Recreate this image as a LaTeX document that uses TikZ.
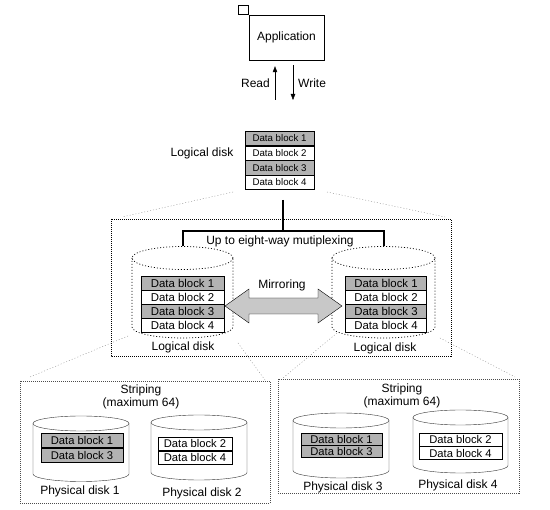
\documentclass[tikz,border=0pt]{standalone}
\usepackage{fontspec}
\setmainfont{Liberation Sans}
\usetikzlibrary{positioning,arrows.meta}
\definecolor{blockgray}{RGB}{178,178,178}
\definecolor{arrowgray}{RGB}{200,200,200}
\tikzset{
  blk/.style={draw,inner sep=0pt},
  gblk/.style={blk,fill=blockgray},
  lbl/.style={font=\fontsize{12}{13}\selectfont,inner sep=1pt},
  dots/.style={dash pattern=on 1pt off 1pt},
  cyldots/.style={line width=0.7pt,dash pattern=on 1pt off 2pt},
  proj/.style={black!45,dash pattern=on 1pt off 2pt},
  rw/.style={-{Triangle[length=6pt,width=4.5pt]}},
}
\begin{document}
\begin{tikzpicture}[x=1pt,y=1pt]
\useasboundingbox (0,0) rectangle (550,-510);

% application and read / write
\node[draw,minimum width=75pt,minimum height=45pt,lbl] (app) at (286.5,-37.5) {Application};
\node[draw,minimum width=10pt,minimum height=9pt,inner sep=0pt,anchor=south east] (tag) at (app.north west) {};
\coordinate (rd) at (275,-100);
\coordinate (wr) at (293,-100);
\draw[rw,shorten >=6pt] (rd) -- (rd |- app.south);
\draw[rw,shorten <=5pt] (wr |- app.south) -- (wr);
\node[lbl,anchor=east] (read) at (271,-83) {Read};
\node[lbl,anchor=west] (write) at (297,-83) {Write};

% logical disk
\begin{scope}[blk/.append style={minimum width=69pt,minimum height=14.25pt,font=\fontsize{9.7}{11}\selectfont}]
  \node[gblk,anchor=north] (t1) at (279.5,-131) {Data block 1};
  \node[blk,below=0pt of t1] (t2) {Data block 2};
  \node[gblk,below=0pt of t2] (t3) {Data block 3};
  \node[blk,below=0pt of t3] (t4) {Data block 4};
\end{scope}
\node[lbl] (ldisk) at (202,-153) {Logical disk};

% mirrored pair
\draw[dots] (111,-219) rectangle (451,-356);
\coordinate (lc) at (182.5,-258);
\coordinate (rc) at (383.5,-258);
\draw[line width=2pt] (283,-200) -- (283,-231);
\draw[line width=2pt] ([yshift=12pt]lc) |- (283,-231) -| ([yshift=12pt]rc);
\node[lbl] (mux) at (280,-241) {Up to eight-way mutiplexing};

\draw[cyldots] (lc) ellipse (50.5pt and 11.5pt);
\draw[cyldots] (lc) ++(-50.5,0) -- ++(0,-69) arc (180:360:50.5pt and 11pt) -- ++(0,69);
\draw[cyldots] (rc) ellipse (51.5pt and 11.5pt);
\draw[cyldots] (rc) ++(-51.5,0) -- ++(0,-69) arc (180:360:51.5pt and 11pt) -- ++(0,69);

\begin{scope}[blk/.append style={minimum width=83pt,minimum height=13.75pt,font=\fontsize{11.4}{13}\selectfont}]
  \node[gblk,anchor=north] (a1) at (182.5,-276) {Data block 1};
  \node[blk,below=0pt of a1] (a2) {Data block 2};
  \node[gblk,below=0pt of a2] (a3) {Data block 3};
  \node[blk,below=0pt of a3] (a4) {Data block 4};
  \node[gblk,minimum width=81pt,anchor=north] (b1) at (386,-276) {Data block 1};
  \node[blk,minimum width=81pt,below=0pt of b1] (b2) {Data block 2};
  \node[gblk,minimum width=81pt,below=0pt of b2] (b3) {Data block 3};
  \node[blk,minimum width=81pt,below=0pt of b3] (b4) {Data block 4};
\end{scope}
\node[lbl] (lda) at (183,-347) {Logical disk};
\node[lbl] (ldb) at (385,-348) {Logical disk};

\coordinate (ml) at (225,-306);
\draw[fill=arrowgray] (ml) -- ++(24,17) -- ++(0,-9) -- ++(69,0) -- ++(0,9) -- ++(24,-17)
  -- ++(-24,-17) -- ++(0,9) -- ++(-69,0) -- ++(0,-9) -- cycle;
\node[lbl] (mirror) at (282,-285) {Mirroring};

% striping
\draw[dots,black!70] (20,-381) rectangle (270,-503);
\draw[dots,black!70] (278,-379) rectangle (519,-493);
\node[lbl,align=center] (str1) at (141,-396.5) {Striping\\(maximum 64)};
\node[lbl,align=center] (str2) at (402,-396) {Striping\\(maximum 64)};

\foreach \cx/\ty/\by/\rx in {81/-423.5/-474/48, 199/-422.5/-472.5/48, 341/-420.5/-470.5/48, 460.5/-417.5/-465.5/47.5}
{
  \draw[black!80] (\cx,\ty) ellipse (\rx pt and 7.5pt);
  \draw[black!80] (\cx-\rx,\ty) -- (\cx-\rx,\by) arc (180:360:\rx pt and 7.5pt) -- (\cx+\rx,\ty);
}

\begin{scope}[blk/.append style={font=\fontsize{11.2}{13}\selectfont}]
  \node[gblk,minimum width=82pt,minimum height=14.5pt,anchor=north] (c1a) at (82,-433) {Data block 1};
  \node[gblk,minimum width=82pt,minimum height=14.5pt,below=0pt of c1a] (c1b) {Data block 3};
  \node[blk,minimum width=74pt,minimum height=13.5pt,anchor=north] (c2a) at (195,-437) {Data block 2};
  \node[blk,minimum width=74pt,minimum height=13.5pt,below=0pt of c2a] (c2b) {Data block 4};
  \node[gblk,minimum width=81pt,minimum height=12pt,anchor=north] (c3a) at (341.5,-433) {Data block 1};
  \node[gblk,minimum width=81pt,minimum height=12pt,below=0pt of c3a] (c3b) {Data block 3};
  \node[blk,minimum width=83pt,minimum height=13pt,anchor=north] (c4a) at (460.5,-433) {Data block 2};
  \node[blk,minimum width=83pt,minimum height=13pt,below=0pt of c4a] (c4b) {Data block 4};
\end{scope}
\node[lbl] (pd1) at (80,-491) {Physical disk 1};
\node[lbl] (pd2) at (202,-493) {Physical disk 2};
\node[lbl] (pd3) at (343,-487) {Physical disk 3};
\node[lbl] (pd4) at (458,-485) {Physical disk 4};

% projection lines
\draw[proj] (233,-192) -- (122,-217);
\draw[proj] (327,-192) -- (445,-217);
\draw[proj] (128,-336) -- (30,-377);
\draw[proj] (238,-343) -- (265,-380);
\draw[proj] (337,-333) -- (283,-378);
\draw[proj] (440,-338) -- (515,-377);
\end{tikzpicture}
\end{document}
